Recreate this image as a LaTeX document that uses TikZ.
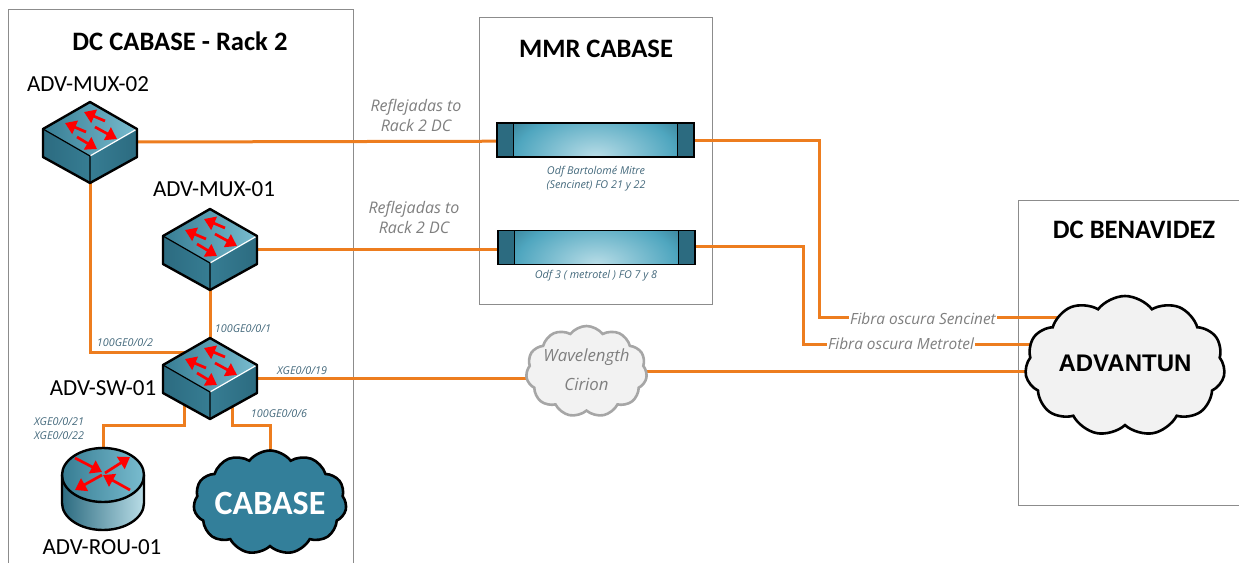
\documentclass[tikz,border=0pt]{standalone}
\usepackage{fontspec}
\setmainfont{Carlito}
\newfontfamily\smallfont{Open Sans}
\newfontfamily\cloudfont{Liberation Sans}
\usetikzlibrary{shapes.symbols,arrows.meta,backgrounds,positioning}
\definecolor{devlight}{HTML}{B9DDE7}
\definecolor{devmid}{HTML}{4FA6BF}
\definecolor{devdark}{HTML}{2C6B80}
\definecolor{fiberorange}{HTML}{ED7D1F}
\definecolor{roomgray}{HTML}{8C8C8C}
\definecolor{portblue}{HTML}{44697C}
\definecolor{notegray}{HTML}{7F7F7F}
\definecolor{cabaseblue}{HTML}{337F9A}
\pgfdeclareradialshading{devglow}{\pgfpoint{0bp}{0bp}}{color(0bp)=(devlight); color(16bp)=(devmid); color(25bp)=(devdark); color(50bp)=(devdark)}
\tikzset{
  room/.style={draw=roomgray,line width=1pt},
  roomtitle/.style={font=\bfseries\fontsize{26.6}{28}\selectfont},
  devname/.style={font=\fontsize{23}{25}\selectfont},
  devbox/.style={minimum width=94pt,minimum height=81pt,inner sep=0pt,outer sep=0pt},
  fiber/.style={draw=fiberorange,line width=3pt},
  portlabel/.style={text=portblue,font=\smallfont\itshape\fontsize{10.8}{14}\selectfont,align=center},
  notelabel/.style={text=notegray,font=\smallfont\itshape\fontsize{16}{20}\selectfont,align=center,fill=white,inner sep=1pt},
  redarrow/.style={draw=red,line width=2.7pt,-{Triangle[length=11pt,width=14pt]}},
  odfbar/.style={minimum width=197pt,minimum height=34pt,inner sep=0pt},
  netcloud/.style={cloud,cloud puffs=11,cloud puff arc=105,aspect=1.6,inner sep=0pt,outer sep=0pt,line width=2.6pt},
  pics/switchicon/.style={code={
    \shade[left color=devdark!70!devmid,middle color=devmid,right color=devmid!60!devlight] (0,-40) -- (-47,-13) -- (0,14) -- (47,-13) -- cycle;
    \shade[left color=devdark,middle color=devmid!85!devlight,right color=devdark!70!devmid] (-47,-13) -- (0,14) -- (0,41) -- (-47,15) -- cycle;
    \shade[left color=devdark!70!devmid,middle color=devmid!85!devlight,right color=devdark] (47,-13) -- (0,14) -- (0,41) -- (47,15) -- cycle;
    \draw[white,line width=1.2pt] (0,14) -- (47,-13);
    \draw[black,line width=1.2pt] (-47,-13) -- (0,14) -- (0,41);
    \draw[black,line width=2.4pt,line join=round] (0,-40) -- (-47,-13) -- (-47,15) -- (0,41) -- (47,15) -- (47,-13) -- cycle;
    \draw[redarrow] (15,-21) -- (-6,-30);
    \draw[redarrow] (-4,-10) -- (-25,-19);
    \draw[redarrow] (5,-15) -- (27,-3);
    \draw[redarrow] (-13,-5) -- (7,7);
  }},
  pics/routericon/.style={code={
    \shade[left color=devdark,middle color=devmid,right color=devlight] (-41,0) -- (-41,28) arc[start angle=180,end angle=0,x radius=41,y radius=27] -- (41,0) -- cycle;
    \shade[left color=devdark!70!devmid,middle color=devmid,right color=devmid!60!devlight] (0,0) ellipse (41 and 27);
    \draw[black,line width=2.4pt] (-41,0) -- (-41,28) arc[start angle=180,end angle=0,x radius=41,y radius=27] -- (41,0);
    \draw[black,line width=2.4pt] (0,0) ellipse (41 and 27);
    \draw[redarrow] (-28,-17) -- (-1,-3);
    \draw[redarrow] (2,-2) -- (27,-18);
    \draw[redarrow] (27,15) -- (0,0);
    \draw[redarrow] (-1,0) -- (-28,15);
  }},
  pics/odfpanel/.style={code={
    \begin{scope}\clip (-98.5,-17) rectangle (98.5,17);
      \shade[shading=devglow] (0,17) ellipse (125 and 70);
      \fill[devdark] (-98.5,-17) rectangle (-82,17) (82,-17) rectangle (98.5,17);\end{scope}
    \draw[black,line width=1.3pt] (-98.5,-17) rectangle (98.5,17) (-82,-17) -- (-82,17) (82,-17) -- (82,17);
  }}
}
\begin{document}
\begin{tikzpicture}[x=1pt,y=-1pt]
\useasboundingbox (0,0) rectangle (1239,562);
\node[roomtitle] (dctitle) at (180,41) {DC CABASE - Rack 2}; \node[roomtitle] (mmrtitle) at (596,49) {MMR CABASE}; \node[roomtitle] (bentitle) at (1134,230) {DC BENAVIDEZ};
\foreach \nm/\pos in {mux2/{90,142},mux1/{210,249},sw/{210,378}} {\node[devbox] (\nm) at (\pos) {}; \pic at (\pos) {switchicon};}
\node[devbox,minimum width=82pt,minimum height=82pt] (rou) at (103,489) {}; \pic at (103,475) {routericon};
\foreach \nm/\pos in {odf1/{595.5,140},odf2/{596.5,247.5}} {\node[odfbar] (\nm) at (\pos) {}; \pic at (\pos) {odfpanel};}
\node[devname] (mux2name) at (88,84) {ADV-MUX-02}; \node[devname] (mux1name) at (214,189) {ADV-MUX-01}; \node[devname] (swname) at (103,388) {ADV-SW-01}; \node[devname] (rouname) at (102,547) {ADV-ROU-01};
\node[netcloud,draw=black,fill=cabaseblue,minimum width=153pt,minimum height=104pt] (cabase) at (270,502.5) {};
\node[text=white,font=\bfseries\fontsize{34}{36}\selectfont] (cabasename) at (270,503) {CABASE};
\node[netcloud,draw=black,fill=black!5,minimum width=200pt,minimum height=140pt] (adv) at (1125,366) {};
\node[font=\cloudfont\bfseries\fontsize{24}{26}\selectfont] (advname) at (1125,363.5) {ADVANTUN};
\node[netcloud,draw=black!35,fill=black!5,minimum width=121pt,minimum height=91pt] (wave) at (586.5,371.5) {};
\node[text=notegray,font=\smallfont\itshape\fontsize{16.8}{29}\selectfont,align=center] (wavename) at (586.5,370) {Wavelength\\Cirion};
\node[portlabel] (p2) at (125,343) {100GE0/0/2}; \node[portlabel] (p1) at (243,329) {100GE0/0/1}; \node[portlabel] (p19) at (302,371) {XGE0/0/19}; \node[portlabel] (p6) at (279,414) {100GE0/0/6}; \node[portlabel] (p21) at (59,429) {XGE0/0/21\\XGE0/0/22};
\node[portlabel] (odf1name) at (596,179) {Odf Bartolomé Mitre\\(Sencinet) FO 21 y 22}; \node[portlabel] (odf2name) at (596,276) {Odf 3 ( metrotel ) FO 7 y 8};
\node[notelabel] (refl1) at (416,115) {Reflejadas to\\Rack 2 DC}; \node[notelabel] (refl2) at (414,217) {Reflejadas to\\Rack 2 DC};
\node[notelabel,font=\smallfont\itshape\fontsize{15.4}{20}\selectfont] (fib1) at (923,319) {Fibra oscura Sencinet}; \node[notelabel,font=\smallfont\itshape\fontsize{15.4}{20}\selectfont] (fib2) at (901,344) {Fibra oscura Metrotel};
\begin{pgfonlayer}{background}
\draw[room] (8,9) rectangle (353,570); \draw[room] (479,17) rectangle (712,304); \draw[room] (1018,200) rectangle (1245,505);
\draw[fiber] (mux2.east) -- ([yshift=-1pt]odf1.center); \draw[fiber] (mux1.east) -- ([yshift=-1.5pt]odf2.center);
\draw[fiber] (mux2.south) |- ([yshift=26pt]sw.center); \draw[fiber] (mux1.south) -- (sw.north);
\draw[fiber] (sw.east) -- ([yshift=-6.5pt]wave.center); \draw[fiber] (wave.center) -- ([yshift=-5.5pt]adv.center);
\draw[fiber] ([xshift=-26pt]sw.center) -- ++(0,47) -| (rou.north);
\draw[fiber] ([xshift=22pt]sw.center) -- ++(0,47) -| (cabase.center);
\draw[fiber] (odf1.east) -- ++(125,0) |- ([yshift=49pt]adv.center);
\draw[fiber] ([yshift=1.5pt]odf2.east) -- ++(108,0) |- ([yshift=22pt]adv.center);
\end{pgfonlayer}
\end{tikzpicture}
\end{document}
